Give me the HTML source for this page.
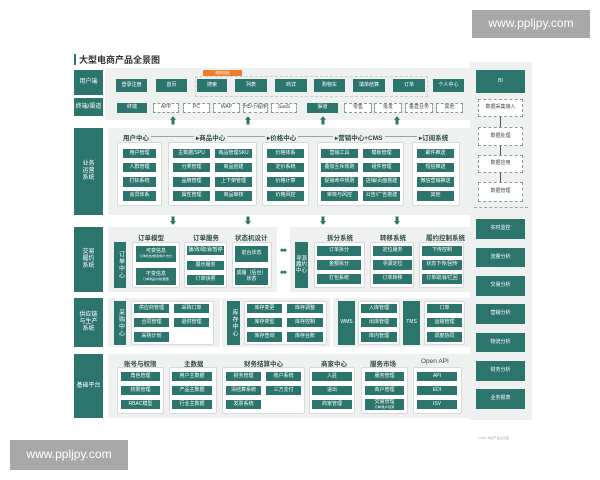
<!DOCTYPE html>
<html><head><meta charset="utf-8">
<style>
*{margin:0;padding:0;box-sizing:border-box}
body{width:600px;height:480px;background:#fff;position:relative;overflow:hidden;font-family:"Liberation Sans","Noto Sans CJK SC",sans-serif}
div{position:absolute}
.b{display:flex;align-items:center;justify-content:center;text-align:center;font-size:5px;line-height:1.15;white-space:nowrap}
.g{background:#2b756d;color:#fff}
.d{border:1px dashed #8a9a97;color:#444;background:#fff}
.w{background:#fff;border:1px solid #d5dbd9;border-radius:2px}
.p{background:#eef1f0}
.L{background:#2b756d;color:#fff;font-size:6px}
.h{font-size:6.5px;color:#2f4a46;white-space:nowrap;font-weight:bold}
.v{writing-mode:vertical-rl;letter-spacing:1px;font-size:6px}
.ar{width:0;height:0}
</style></head><body>

<!-- watermarks -->
<div class="b" style="left:472px;top:10px;width:118px;height:28px;background:#a8a8a8;color:#fff;font-size:12px">www.ppljpy.com</div>
<div class="b" style="left:10px;top:440px;width:118px;height:30px;background:#a8a8a8;color:#fff;font-size:12px">www.ppljpy.com</div>

<!-- title -->
<div style="left:74px;top:54px;width:2px;height:11px;background:#2b756d"></div>
<div style="left:79px;top:53px;font-size:9px;font-weight:bold;color:#333;white-space:nowrap">大型电商产品全景图</div>

<!-- main bg -->
<div class="p" style="left:105px;top:68px;width:365px;height:52px"></div>
<div class="p" style="left:470px;top:62px;width:62px;height:358px"></div>

<!-- row labels -->
<div class="b L" style="left:74px;top:70px;width:29px;height:25px">用户端</div>
<div class="b L" style="left:74px;top:98px;width:29px;height:18px">终端/渠道</div>
<div class="b L" style="left:74px;top:128px;width:29px;height:87px">业务<br>运营<br>系统</div>
<div class="b L" style="left:74px;top:227px;width:29px;height:65px">交易<br>履约<br>系统</div>
<div class="b L" style="left:74px;top:298px;width:29px;height:49px">供应链<br>与生产<br>系统</div>
<div class="b L" style="left:74px;top:354px;width:29px;height:64px">基础平台</div>

<!-- user row -->
<div style="left:195px;top:76px;width:233px;height:21px;border:1px dashed #c9d1cf"></div>
<div class="b" style="left:203px;top:70px;width:39px;height:6px;background:#f07d2c;color:#fff;font-size:3.5px">购物流程</div>
<div class="b g" style="left:116px;top:79px;width:31px;height:13px">登录注册</div>
<div class="b g" style="left:156px;top:79px;width:31px;height:13px">首页</div>
<div class="b g" style="left:197px;top:79px;width:30px;height:13px">搜索</div>
<div class="b g" style="left:235px;top:79px;width:32px;height:13px">列表</div>
<div class="b g" style="left:275px;top:79px;width:32px;height:13px">商详</div>
<div class="b g" style="left:314px;top:79px;width:31px;height:13px">购物车</div>
<div class="b g" style="left:353px;top:79px;width:32px;height:13px">填单结算</div>
<div class="b g" style="left:393px;top:79px;width:32px;height:13px">订单</div>
<div class="b g" style="left:433px;top:79px;width:31px;height:13px">个人中心</div>

<div class="b g" style="left:117px;top:103px;width:30px;height:10px">终端</div>
<div class="b d" style="left:153px;top:103px;width:26px;height:10px">APP</div>
<div class="b d" style="left:183px;top:103px;width:27px;height:10px">PC</div>
<div class="b d" style="left:213px;top:103px;width:27px;height:10px">WAP</div>
<div class="b d" style="left:243px;top:103px;width:25px;height:10px">H5/小程序</div>
<div class="b d" style="left:271px;top:103px;width:26px;height:10px">SaaS</div>
<div class="b g" style="left:307px;top:103px;width:31px;height:10px">渠道</div>
<div class="b d" style="left:344px;top:103px;width:28px;height:10px">零售</div>
<div class="b d" style="left:374px;top:103px;width:28px;height:10px">批发</div>
<div class="b d" style="left:405px;top:103px;width:28px;height:10px">垂直业务</div>
<div class="b d" style="left:436px;top:103px;width:27px;height:10px">其他</div>

<!-- up arrows -->
<div class="b" style="left:168px;top:116px;width:10px;height:10px;color:#2b756d;font-size:9px">⬆</div>
<div class="b" style="left:243px;top:116px;width:10px;height:10px;color:#2b756d;font-size:9px">⬆</div>
<div class="b" style="left:318px;top:116px;width:10px;height:10px;color:#2b756d;font-size:9px">⬆</div>
<div class="b" style="left:392px;top:116px;width:10px;height:10px;color:#2b756d;font-size:9px">⬆</div>

<!-- business operation -->
<div class="p" style="left:108px;top:128px;width:362px;height:87px"></div>
<div style="left:145px;top:136px;width:275px;height:1px;background:#9aa9a6"></div>
<div class="h" style="left:121px;top:132px;background:#eef1f0;padding:0 2px">用户中心</div>
<div class="h" style="left:194px;top:132px;background:#eef1f0;padding:0 2px">▸商品中心</div>
<div class="h" style="left:265px;top:132px;background:#eef1f0;padding:0 2px">▸价格中心</div>
<div class="h" style="left:333px;top:132px;background:#eef1f0;padding:0 2px">▸营销中心+CMS</div>
<div class="h" style="left:417px;top:132px;background:#eef1f0;padding:0 2px">▸订阅系统</div>

<div class="w" style="left:117px;top:142px;width:45px;height:64px"></div>
<div class="b g" style="left:123px;top:149px;width:33px;height:9px">用户管理</div>
<div class="b g" style="left:123px;top:163px;width:33px;height:9px">人群管理</div>
<div class="b g" style="left:123px;top:177px;width:33px;height:10px">打标系统</div>
<div class="b g" style="left:123px;top:191px;width:33px;height:10px">会员体系</div>

<div class="w" style="left:168px;top:142px;width:89px;height:64px"></div>
<div class="b g" style="left:173px;top:149px;width:37px;height:9px">主数据/SPU</div>
<div class="b g" style="left:215px;top:149px;width:37px;height:9px">商品管理SKU</div>
<div class="b g" style="left:173px;top:163px;width:37px;height:9px">分类管理</div>
<div class="b g" style="left:215px;top:163px;width:37px;height:9px">商品创建</div>
<div class="b g" style="left:173px;top:177px;width:37px;height:10px">品牌管理</div>
<div class="b g" style="left:215px;top:177px;width:37px;height:10px">上下架管理</div>
<div class="b g" style="left:173px;top:191px;width:37px;height:10px">属性管理</div>
<div class="b g" style="left:215px;top:191px;width:37px;height:10px">商品审核</div>

<div class="w" style="left:262px;top:142px;width:47px;height:64px"></div>
<div class="b g" style="left:267px;top:149px;width:37px;height:9px">价格体系</div>
<div class="b g" style="left:267px;top:163px;width:37px;height:9px">定价系统</div>
<div class="b g" style="left:267px;top:177px;width:37px;height:10px">价格计算</div>
<div class="b g" style="left:267px;top:191px;width:37px;height:10px">价格风控</div>

<div class="w" style="left:317px;top:142px;width:87px;height:64px"></div>
<div class="b g" style="left:321px;top:149px;width:37px;height:9px">营销工具</div>
<div class="b g" style="left:363px;top:149px;width:37px;height:9px">模板管理</div>
<div class="b g" style="left:321px;top:163px;width:37px;height:9px">叠加互斥规则</div>
<div class="b g" style="left:363px;top:163px;width:37px;height:9px">组件管理</div>
<div class="b g" style="left:321px;top:177px;width:37px;height:10px">促销命中规则</div>
<div class="b g" style="left:363px;top:177px;width:37px;height:10px">店铺/页面搭建</div>
<div class="b g" style="left:321px;top:191px;width:37px;height:10px">审核与风控</div>
<div class="b g" style="left:363px;top:191px;width:37px;height:10px">公告/广告搭建</div>

<div class="w" style="left:412px;top:142px;width:48px;height:64px"></div>
<div class="b g" style="left:417px;top:149px;width:37px;height:9px">邮件推送</div>
<div class="b g" style="left:417px;top:163px;width:37px;height:9px">短信推送</div>
<div class="b g" style="left:417px;top:177px;width:37px;height:10px">微信营销推送</div>
<div class="b g" style="left:417px;top:191px;width:37px;height:10px">其他</div>

<!-- down arrows -->
<div class="b" style="left:168px;top:216px;width:10px;height:10px;color:#2b756d;font-size:9px">⬇</div>
<div class="b" style="left:243px;top:216px;width:10px;height:10px;color:#2b756d;font-size:9px">⬇</div>
<div class="b" style="left:318px;top:216px;width:10px;height:10px;color:#2b756d;font-size:9px">⬇</div>
<div class="b" style="left:392px;top:216px;width:10px;height:10px;color:#2b756d;font-size:9px">⬇</div>

<!-- transaction -->
<div class="p" style="left:108px;top:227px;width:169px;height:65px"></div>
<div class="p" style="left:290px;top:227px;width:180px;height:65px"></div>
<div class="h" style="left:138px;top:232px">订单模型</div>
<div class="h" style="left:193px;top:232px">订单服务</div>
<div class="h" style="left:235px;top:232px">状态机设计</div>
<div class="b g v" style="left:114px;top:242px;width:12px;height:46px">订单中心</div>
<div class="w" style="left:132px;top:242px;width:48px;height:46px"></div>
<div class="b g" style="left:136px;top:246px;width:40px;height:16px;flex-direction:column">可变信息<span style="font-size:3px">订单状态/物流/用户/支付</span></div>
<div class="b g" style="left:136px;top:268px;width:40px;height:17px;flex-direction:column">不变信息<span style="font-size:3px">订单商品/价格/数量</span></div>
<div class="w" style="left:184px;top:242px;width:43px;height:46px"></div>
<div class="b g" style="left:187px;top:246px;width:37px;height:9px">播/改/取消/暂停</div>
<div class="b g" style="left:187px;top:261px;width:37px;height:9px">展示服务</div>
<div class="b g" style="left:187px;top:275px;width:37px;height:10px">订单快照</div>
<div class="w" style="left:232px;top:242px;width:40px;height:46px"></div>
<div class="b g" style="left:235px;top:246px;width:33px;height:16px">前台状态</div>
<div class="b g" style="left:235px;top:268px;width:33px;height:17px">成履（后台）<br>状态</div>
<div class="b" style="left:277px;top:245px;width:13px;height:10px;color:#2b756d;font-size:9px">⬌</div>
<div class="b" style="left:277px;top:267px;width:13px;height:10px;color:#2b756d;font-size:9px">⬌</div>

<div class="h" style="left:327px;top:232px">拆分系统</div>
<div class="h" style="left:380px;top:232px">转移系统</div>
<div class="h" style="left:426px;top:232px">履约控制系统</div>
<div class="b g" style="left:295px;top:242px;width:13px;height:46px;font-size:5.5px">寻源<br>履约<br>中心</div>
<div class="w" style="left:314px;top:242px;width:51px;height:46px"></div>
<div class="b g" style="left:317px;top:246px;width:44px;height:10px">订单拆分</div>
<div class="b g" style="left:317px;top:260px;width:44px;height:10px">金额拆分</div>
<div class="b g" style="left:317px;top:274px;width:44px;height:10px">打包系统</div>
<div class="w" style="left:370px;top:242px;width:44px;height:46px"></div>
<div class="b g" style="left:373px;top:246px;width:39px;height:10px">定位服务</div>
<div class="b g" style="left:373px;top:260px;width:39px;height:10px">寻源定位</div>
<div class="b g" style="left:373px;top:274px;width:39px;height:10px">订单转移</div>
<div class="w" style="left:419px;top:242px;width:45px;height:46px"></div>
<div class="b g" style="left:422px;top:246px;width:40px;height:10px">下传控制</div>
<div class="b g" style="left:422px;top:260px;width:40px;height:10px">状态下传/回传</div>
<div class="b g" style="left:422px;top:274px;width:40px;height:10px">订单取消/拦回</div>

<!-- supply -->
<div class="p" style="left:108px;top:298px;width:112px;height:49px"></div>
<div class="p" style="left:222px;top:298px;width:108px;height:49px"></div>
<div class="p" style="left:333px;top:298px;width:137px;height:49px"></div>
<div class="b g v" style="left:114px;top:301px;width:12px;height:44px">采购中心</div>
<div class="w" style="left:131px;top:301px;width:83px;height:44px"></div>
<div class="b g" style="left:134px;top:304px;width:35px;height:9px">供应商管理</div>
<div class="b g" style="left:174px;top:304px;width:35px;height:9px">采购订单</div>
<div class="b g" style="left:134px;top:318px;width:35px;height:9px">合同管理</div>
<div class="b g" style="left:174px;top:318px;width:35px;height:9px">退供管理</div>
<div class="b g" style="left:134px;top:332px;width:35px;height:10px">采购计划</div>
<div class="b g v" style="left:227px;top:301px;width:13px;height:44px">库存中心</div>
<div class="w" style="left:244px;top:301px;width:83px;height:44px"></div>
<div class="b g" style="left:247px;top:304px;width:35px;height:9px">库存变更</div>
<div class="b g" style="left:287px;top:304px;width:36px;height:9px">库存调整</div>
<div class="b g" style="left:247px;top:318px;width:35px;height:9px">库存类型</div>
<div class="b g" style="left:287px;top:318px;width:36px;height:9px">库存控制</div>
<div class="b g" style="left:247px;top:332px;width:35px;height:10px">库存查询</div>
<div class="b g" style="left:287px;top:332px;width:36px;height:10px">库存台账</div>
<div class="b g" style="left:338px;top:301px;width:17px;height:44px">WMS</div>
<div class="w" style="left:358px;top:301px;width:42px;height:44px"></div>
<div class="b g" style="left:361px;top:304px;width:36px;height:9px">入库管理</div>
<div class="b g" style="left:361px;top:318px;width:36px;height:9px">出库管理</div>
<div class="b g" style="left:361px;top:332px;width:36px;height:10px">库内管理</div>
<div class="b g" style="left:403px;top:301px;width:17px;height:44px">TMS</div>
<div class="w" style="left:424px;top:301px;width:41px;height:44px"></div>
<div class="b g" style="left:427px;top:304px;width:35px;height:9px">订单</div>
<div class="b g" style="left:427px;top:318px;width:35px;height:9px">运输管理</div>
<div class="b g" style="left:427px;top:332px;width:35px;height:10px">调度协同</div>

<!-- base platform -->
<div class="p" style="left:108px;top:354px;width:362px;height:64px"></div>
<div class="h" style="left:124px;top:358px">账号与权限</div>
<div class="h" style="left:184px;top:358px">主数据</div>
<div class="h" style="left:244px;top:358px">财务结算中心</div>
<div class="h" style="left:321px;top:358px">商家中心</div>
<div class="h" style="left:370px;top:358px">服务市场</div>
<div class="h" style="left:421px;top:358px;font-weight:normal">Open API</div>
<div class="w" style="left:117px;top:367px;width:47px;height:47px"></div>
<div class="b g" style="left:121px;top:372px;width:39px;height:9px">角色管理</div>
<div class="b g" style="left:121px;top:386px;width:39px;height:9px">权限管理</div>
<div class="b g" style="left:121px;top:400px;width:39px;height:9px">RBAC模型</div>
<div class="w" style="left:169px;top:367px;width:48px;height:47px"></div>
<div class="b g" style="left:172px;top:372px;width:40px;height:9px">用户主数据</div>
<div class="b g" style="left:172px;top:386px;width:40px;height:9px">产品主数据</div>
<div class="b g" style="left:172px;top:400px;width:40px;height:9px">行业主数据</div>
<div class="w" style="left:222px;top:367px;width:83px;height:47px"></div>
<div class="b g" style="left:226px;top:372px;width:35px;height:9px">财务管理</div>
<div class="b g" style="left:266px;top:372px;width:35px;height:9px">账户系统</div>
<div class="b g" style="left:226px;top:386px;width:35px;height:9px">清结算系统</div>
<div class="b g" style="left:266px;top:386px;width:35px;height:9px">三方支付</div>
<div class="b g" style="left:226px;top:400px;width:35px;height:9px">发票系统</div>
<div class="w" style="left:309px;top:367px;width:46px;height:47px"></div>
<div class="b g" style="left:312px;top:372px;width:40px;height:9px">入驻</div>
<div class="b g" style="left:312px;top:386px;width:40px;height:9px">退出</div>
<div class="b g" style="left:312px;top:400px;width:40px;height:9px">商家管理</div>
<div class="w" style="left:361px;top:367px;width:47px;height:47px"></div>
<div class="b g" style="left:365px;top:372px;width:39px;height:9px">服务管理</div>
<div class="b g" style="left:365px;top:386px;width:39px;height:9px">商户管理</div>
<div class="b g" style="left:365px;top:399px;width:39px;height:11px;flex-direction:column">交易管理<span style="font-size:3px">订单/账户/结算</span></div>
<div class="w" style="left:413px;top:367px;width:49px;height:47px"></div>
<div class="b g" style="left:417px;top:372px;width:40px;height:9px">API</div>
<div class="b g" style="left:417px;top:386px;width:40px;height:9px">EDI</div>
<div class="b g" style="left:417px;top:400px;width:40px;height:9px">ISV</div>

<!-- right column -->
<div class="b g" style="left:476px;top:70px;width:49px;height:23px">BI</div>
<div class="b d" style="left:478px;top:99px;width:45px;height:18px">数据采集接入</div>
<div class="b d" style="left:478px;top:127px;width:45px;height:19px">数据处理</div>
<div class="b d" style="left:478px;top:155px;width:45px;height:18px">数据应用</div>
<div class="b d" style="left:478px;top:182px;width:45px;height:20px">数据管理</div>
<div style="left:500px;top:117px;width:1px;height:10px;background:#555"></div>
<div style="left:500px;top:146px;width:1px;height:9px;background:#555"></div>
<div style="left:500px;top:173px;width:1px;height:9px;background:#555"></div>
<div style="left:474px;top:207px;width:54px;height:0;border-top:1px dashed #9aa"></div>
<div class="b g" style="left:476px;top:219px;width:49px;height:20px">实时监控</div>
<div class="b g" style="left:476px;top:248px;width:49px;height:19px">流量分析</div>
<div class="b g" style="left:476px;top:276px;width:49px;height:20px">交易分析</div>
<div class="b g" style="left:476px;top:304px;width:49px;height:20px">营销分析</div>
<div class="b g" style="left:476px;top:333px;width:49px;height:19px">物流分析</div>
<div class="b g" style="left:476px;top:361px;width:49px;height:20px">财务分析</div>
<div class="b g" style="left:476px;top:389px;width:49px;height:20px">业务报表</div>

<div style="left:478px;top:436px;font-size:3px;color:#aaa;white-space:nowrap">©2020 电商产品全景图</div>
</body></html>
